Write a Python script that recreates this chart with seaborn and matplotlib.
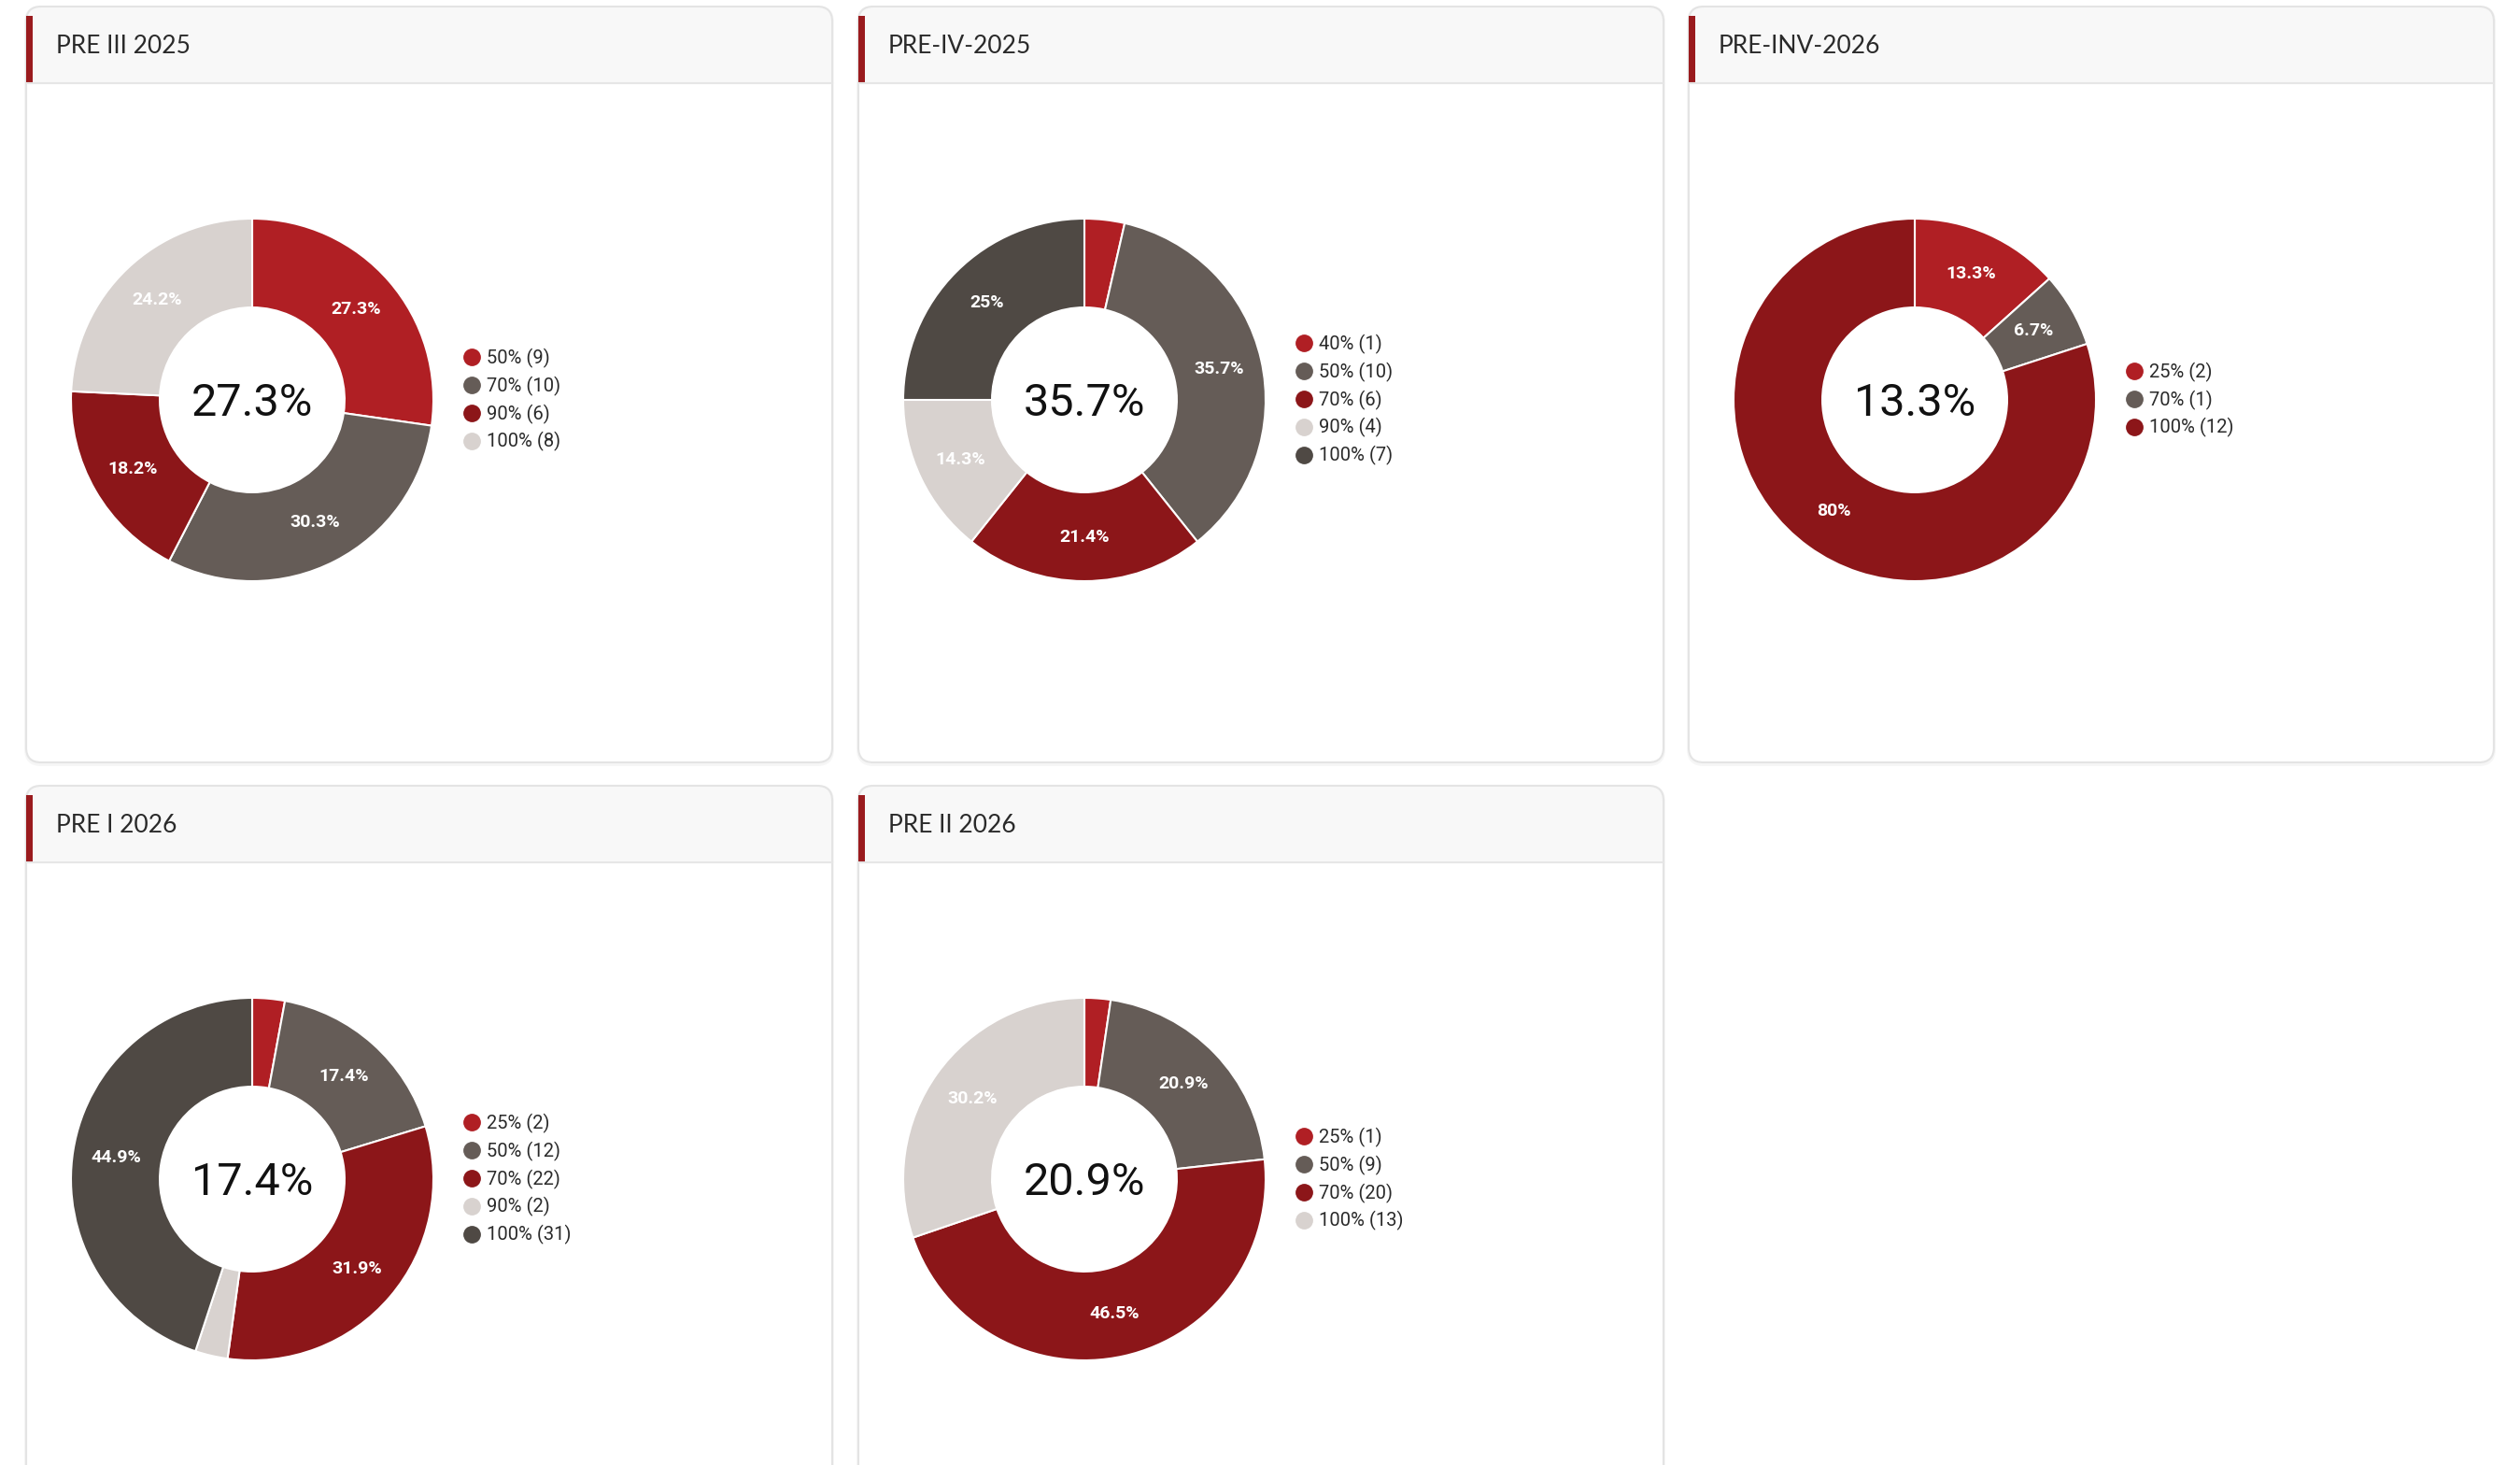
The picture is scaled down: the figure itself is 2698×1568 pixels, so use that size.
import matplotlib
matplotlib.use('Agg')
from matplotlib import pyplot as plt
from matplotlib.patches import FancyBboxPatch, Rectangle
from matplotlib.lines import Line2D
import seaborn as sns

# data
titles = ['PRE III 2025', 'PRE-IV-2025', 'PRE-INV-2026', 'PRE I 2026', 'PRE II 2026']
levels = [
    ['50%', '70%', '90%', '100%'],
    ['40%', '50%', '70%', '90%', '100%'],
    ['25%', '70%', '100%'],
    ['25%', '50%', '70%', '90%', '100%'],
    ['25%', '50%', '70%', '100%'],
]
counts = [
    [9, 10, 6, 8],
    [1, 10, 6, 4, 7],
    [2, 1, 12],
    [2, 12, 22, 2, 31],
    [1, 9, 20, 13],
]
center_values = [27.3, 35.7, 13.3, 17.4, 20.9]

W, H = 2698, 1568
sns.set_theme(style='white')
plt.rcParams['font.family'] = ['Roboto', 'DejaVu Sans']
palette = sns.color_palette(['#b01f24', '#655c57', '#8c1619', '#d8d2cf', '#4f4944'])

# card geometry (pixels)
cards = [
    (28, 7, 891, 816), (919, 7, 1781, 816), (1808, 7, 2670, 816),
    (28, 841, 891, 1620), (919, 841, 1781, 1620),
]
HDR = 82
R_OUT = 194


def fmt_pct(p):
    if p < 5:
        return ''
    s = f'{p:.1f}'
    if s.endswith('.0'):
        s = s[:-2]
    return s + '%'


fig = plt.figure(figsize=(W / 100, H / 100), dpi=100)
fig.patch.set_facecolor('white')
bg = fig.add_axes([0, 0, 1, 1])
bg.set_xlim(0, W)
bg.set_ylim(H, 0)
bg.axis('off')

for i, (x0, y0, x1, y1) in enumerate(cards):
    # soft shadow
    bg.add_patch(FancyBboxPatch((x0 - 2, y0 - 1), x1 - x0 + 4, y1 - y0 + 5,
                                boxstyle='round,pad=0,rounding_size=18',
                                fc='#000000', ec='none', alpha=0.035))
    bg.add_patch(FancyBboxPatch((x0, y0), x1 - x0, y1 - y0,
                                boxstyle='round,pad=0,rounding_size=16',
                                fc='white', ec='none'))
    # header band
    bg.add_patch(FancyBboxPatch((x0, y0), x1 - x0, HDR,
                                boxstyle='round,pad=0,rounding_size=16',
                                fc='#f8f8f8', ec='none'))
    bg.add_patch(Rectangle((x0, y0 + HDR - 20), x1 - x0, 20, fc='#f8f8f8', ec='none'))
    bg.plot([x0, x1], [y0 + HDR, y0 + HDR], color='#e6e6e6', lw=1.5)
    bg.add_patch(FancyBboxPatch((x0, y0), x1 - x0, y1 - y0,
                                boxstyle='round,pad=0,rounding_size=16',
                                fc='none', ec='#e4e4e4', lw=1.5))
    bg.add_patch(Rectangle((x0, y0 + 10), 7, HDR - 10, fc='#9a1b1e', ec='none'))
    bg.text(x0 + 32, y0 + 42, titles[i], fontsize=19, color='#2a2a2a',
            va='center', ha='left', family=['Lato', 'DejaVu Sans'])

    # donut
    cx = x0 + 242
    cy = y0 + 421
    ax = fig.add_axes([(cx - R_OUT) / W, 1 - (cy + R_OUT) / H, 2 * R_OUT / W, 2 * R_OUT / H])
    cols = palette[:len(counts[i])]
    wedges, _, autotexts = ax.pie(counts[i], colors=cols, startangle=90, counterclock=False,
                                  autopct=fmt_pct, pctdistance=0.76,
                                  wedgeprops=dict(width=0.49, edgecolor='white', linewidth=1.5),
                                  textprops=dict(color='white', fontsize=14, fontweight='bold'))
    ax.set_xlim(-1.0, 1.0)
    ax.set_ylim(-1.0, 1.0)
    ax.set_aspect('equal')
    ax.text(0, -0.02, f'{center_values[i]}%', ha='center', va='center',
            fontsize=35, color='#111111')

    handles = [Line2D([], [], marker='o', ls='none', markersize=12.5,
                      markerfacecolor=c, markeredgecolor=c) for c in cols]
    labels = [f'{lv} ({n})' for lv, n in zip(levels[i], counts[i])]
    fig.legend(handles, labels, loc='center left',
               bbox_to_anchor=((cx + 215) / W, 1 - cy / H), bbox_transform=fig.transFigure,
               frameon=False, fontsize=14.5, borderpad=0, handlelength=1.0,
               handletextpad=0.3, labelspacing=0.44, labelcolor='#2a2a2a')

fig.savefig('out.png', dpi=100, facecolor='white')
